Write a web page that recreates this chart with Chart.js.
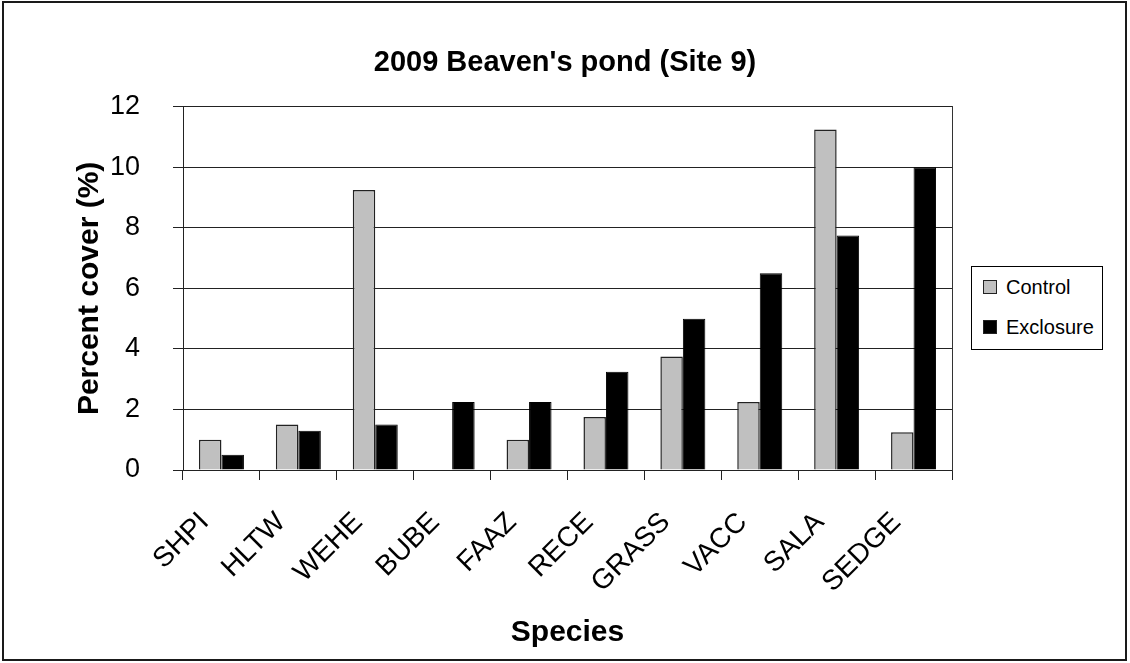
<!DOCTYPE html>
<html>
<head>
<meta charset="utf-8">
<script src="https://cdn.jsdelivr.net/npm/chart.js@4.4.0/dist/chart.umd.min.js"></script>
<style>
  body { margin: 0; background: #fff; }
  #wrap { position: relative; width: 1130px; height: 663px; }
  #frame { position: absolute; left: 2px; top: 1px; width: 1125px; height: 660px; box-sizing: border-box; border: 2px solid #1a1a1a; pointer-events: none; }
  #legend { position: absolute; left: 971px; top: 266px; width: 132px; height: 84px; box-sizing: border-box; border: 1px solid #000; background: #fff; font-family: 'Liberation Sans', Arial, sans-serif; font-size: 20px; }
  #legend .row { position: absolute; left: 11px; height: 24px; display: flex; align-items: center; }
  #legend .box { width: 12px; height: 12px; border: 1px solid #222; margin-right: 9px; }
</style>
</head>
<body>
<div id="wrap">
  <canvas id="chart" width="1130" height="663"></canvas>
  <div id="legend"></div>
  <div id="frame"></div>
</div>
<script>
// datos
const species = ['SHPI', 'HLTW', 'WEHE', 'BUBE', 'FAAZ', 'RECE', 'GRASS', 'VACC', 'SALA', 'SEDGE'];
const control = [1.0, 1.5, 9.25, 0, 1.0, 1.75, 3.75, 2.25, 11.25, 1.25];
const exclosure = [0.5, 1.3, 1.5, 2.25, 2.25, 3.25, 5.0, 6.5, 7.75, 10.0];
const yTicks = [0, 2, 4, 6, 8, 10, 12];

Chart.defaults.font.family = "'Liberation Sans', Arial, sans-serif";
Chart.defaults.color = '#000';

const ctx = document.getElementById('chart').getContext('2d');
const chart = new Chart(ctx, {
  type: 'bar',
  data: {
    labels: species,
    datasets: [{
      label: 'Control',
      data: control,
      backgroundColor: '#c0c0c0',
      borderColor: '#222',
      borderWidth: 1.5
    }, {
      label: 'Exclosure',
      data: exclosure,
      backgroundColor: '#000',
      borderColor: '#000',
      borderWidth: 1
    }]
  },
  options: {
    responsive: false,
    animation: false,
    layout: { padding: 0 },
    datasets: { bar: { categoryPercentage: 0.585, barPercentage: 1.0 } },
    plugins: {
      legend: { display: false },
      tooltip: { enabled: false },
      title: {
        display: true,
        text: "2009 Beaven's pond (Site 9)",
        font: { size: 29, weight: 'bold' },
        color: '#000',
        padding: { top: 46, bottom: 26 }
      }
    },
    scales: {
      x: {
        afterFit(scale) { scale.height = 193; },
        grid: { offset: true, drawOnChartArea: false, drawTicks: true, tickLength: 10, color: '#222' },
        border: { display: true, color: '#222', width: 1 },
        ticks: { autoSkip: false, maxRotation: 45, minRotation: 45, font: { size: 28 }, padding: 26, labelOffset: -17, color: '#000' },
        title: { display: true, text: 'Species', font: { size: 30, weight: 'bold' }, color: '#000', padding: { top: 0, bottom: 12 } }
      },
      y: {
        min: 0,
        max: 12,
        afterFit(scale) { scale.width = 183; },
        afterBuildTicks(scale) { scale.ticks = yTicks.map(v => ({ value: v })); },
        grid: { color: '#222', lineWidth: 1, drawTicks: true, tickLength: 10 },
        border: { display: true, color: '#222', width: 1 },
        ticks: { font: { size: 27 }, padding: 33, color: '#000' },
        title: { display: true, text: 'Percent cover (%)', font: { size: 30, weight: 'bold' }, color: '#000', padding: { top: 72, bottom: 0 } }
      },
      // eje derecho vacio: reserva el hueco de la leyenda y dibuja el borde derecho
      yRight: {
        position: 'right',
        min: 0,
        max: 12,
        afterFit(scale) { scale.width = 178; },
        grid: { display: false },
        border: { display: true, color: '#333', width: 1 },
        ticks: { display: false }
      }
    }
  }
});

// leyenda en HTML
const legend = document.getElementById('legend');
chart.data.datasets.forEach((ds, i) => {
  const row = document.createElement('div');
  row.className = 'row';
  row.style.top = (8 + i * 40) + 'px';
  const box = document.createElement('span');
  box.className = 'box';
  box.style.background = ds.backgroundColor;
  const txt = document.createElement('span');
  txt.textContent = ds.label;
  row.appendChild(box);
  row.appendChild(txt);
  legend.appendChild(row);
});
</script>
</body>
</html>
